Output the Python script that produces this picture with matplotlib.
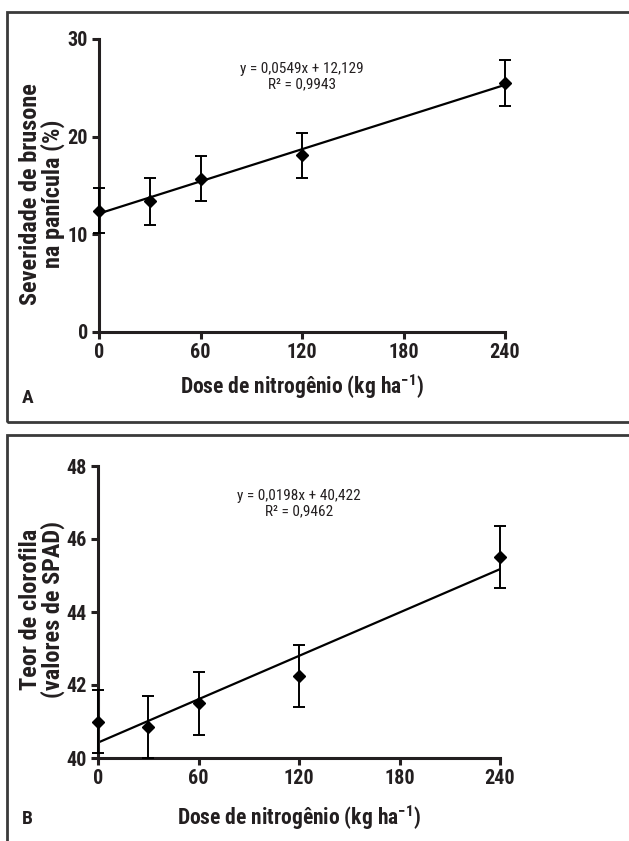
import numpy as np
import matplotlib.pyplot as plt
from matplotlib.patches import Rectangle

# Data
dose = [0, 30, 60, 120, 240]

sev_mean = [12.4, 13.4, 15.7, 18.1, 25.5]
sev_err = [2.3, 2.4, 2.3, 2.3, 2.35]
sev_fit = (0.0549, 12.129)
sev_eq = ["y = 0,0549x + 12,129", "R² = 0,9943"]

spad_mean = [41.0, 40.85, 41.5, 42.25, 45.5]
spad_err = [0.86, 0.85, 0.86, 0.85, 0.85]
spad_fit = (0.0198, 40.422)
spad_eq = ["y = 0,0198x + 40,422", "R² = 0,9462"]

xticks = [0, 60, 120, 180, 240]

ink = '#231f20'
FONT = ['Roboto Condensed', 'Liberation Sans', 'DejaVu Sans']
plt.rcParams['font.family'] = FONT
plt.rcParams['mathtext.fontset'] = 'custom'
plt.rcParams['mathtext.rm'] = 'Roboto Condensed'
plt.rcParams['mathtext.bf'] = 'Roboto Condensed:bold'

W, H = 629, 841
fig = plt.figure(figsize=(W / 100, H / 100), dpi=100)


def px_axes(left, top, right, bottom):
    return fig.add_axes([left / W, 1 - bottom / H, (right - left) / W, (bottom - top) / H])


def draw_panel(ax, means, errs, fit, eq, ylim, yticks, ylabel, ylab_xy, xlab_y):
    ax.errorbar(dose, means, yerr=errs, fmt='D', color='black', ms=6.5,
                ecolor='black', elinewidth=1.4, capsize=4, capthick=1.4, zorder=3,
                clip_on=False)
    xs = np.array([0, 240])
    ax.plot(xs, fit[0] * xs + fit[1], color='black', lw=1.6, zorder=2)
    ax.set_xlim(0, 240)
    ax.set_ylim(*ylim)
    ax.set_xticks(xticks)
    ax.set_yticks(yticks)
    for s in ['top', 'right']:
        ax.spines[s].set_visible(False)
    for s in ['left', 'bottom']:
        ax.spines[s].set_linewidth(2.2)
        ax.spines[s].set_color(ink)
    ax.tick_params(direction='out', length=5, width=2.2, color=ink, pad=3)
    for lab in ax.get_xticklabels() + ax.get_yticklabels():
        lab.set_fontweight('bold')
        lab.set_fontsize(14.5)
        lab.set_color(ink)
    ax.text(0.5, 0.92, eq[0] + "\n" + eq[1], transform=ax.transAxes,
            ha='center', va='top', fontsize=11, color=ink, linespacing=1.1)
    ax.set_ylabel(ylabel, fontsize=17.5, fontweight='bold', color=ink, linespacing=0.92)
    ax.yaxis.set_label_coords(*ylab_xy)
    ax.yaxis.label.set_va('center')
    ax.set_xlabel('Dose de nitrogênio (kg ha$^{\\mathbf{-1}}$)', fontsize=15.5,
                  fontweight='bold', color=ink)
    ax.xaxis.set_label_coords(0.5, xlab_y)
    ax.xaxis.label.set_va('center')


# Panel frames
fig.patches.append(Rectangle((7 / W, 1 - 422 / H), 1.0, 410 / H, transform=fig.transFigure,
                             fill=False, lw=2, edgecolor='#3a3a3a'))
fig.patches.append(Rectangle((7 / W, -0.05), 1.0, 1 - 435 / H + 0.05, transform=fig.transFigure,
                             fill=False, lw=2, edgecolor='#3a3a3a'))

axA = px_axes(99, 39, 505, 332)
draw_panel(axA, sev_mean, sev_err, sev_fit, sev_eq, (0, 30), [0, 10, 20, 30],
           'Severidade de brusone\nna panícula (%)', (-0.14, 0.47), -0.188)
fig.text(22 / W, 1 - 398 / H, 'A', fontsize=14, fontweight='bold', color=ink, va='center')

axB = px_axes(98, 466, 500, 758)
draw_panel(axB, spad_mean, spad_err, spad_fit, spad_eq, (40, 48), [40, 42, 44, 46, 48],
           'Teor de clorofila\n(valores de SPAD)', (-0.14, 0.51), -0.205)
fig.text(22 / W, 1 - 819 / H, 'B', fontsize=14, fontweight='bold', color=ink, va='center')

fig.savefig('out.png', dpi=100)
